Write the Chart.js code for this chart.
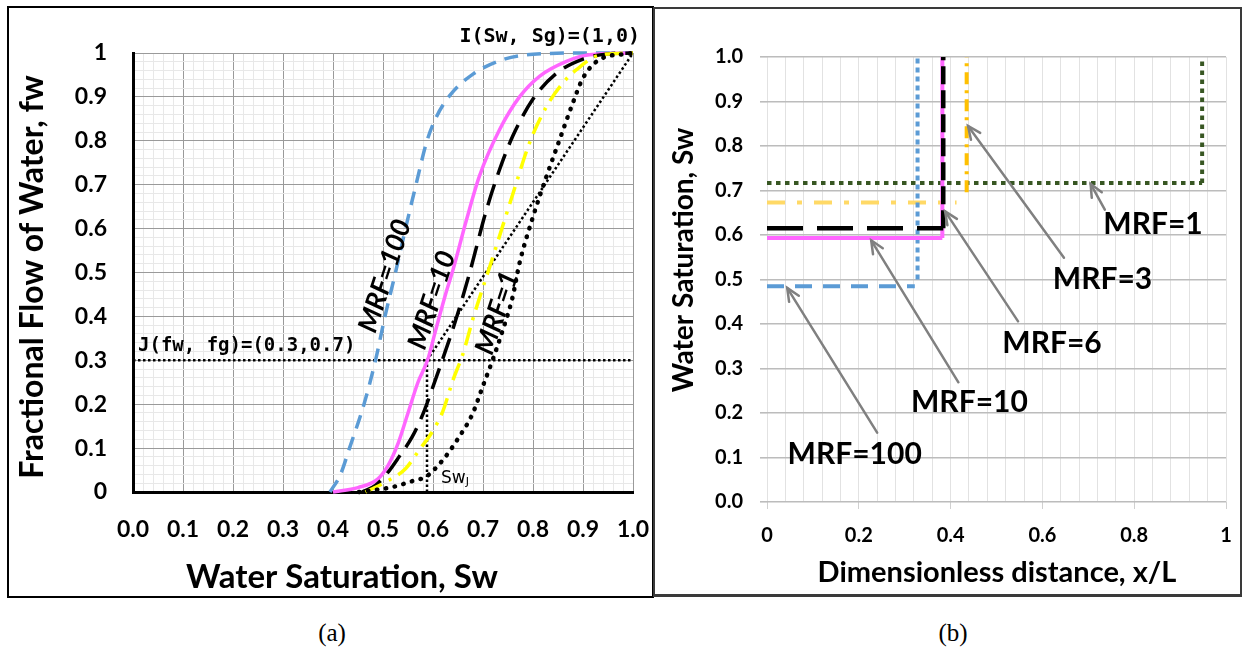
<!DOCTYPE html>
<html>
<head>
<meta charset="utf-8">
<script src="https://cdn.jsdelivr.net/npm/chart.js@4.4.1/dist/chart.umd.min.js"></script>
<style>
  html, body { margin: 0; padding: 0; background: #fff; }
  body { width: 1244px; height: 656px; position: relative; overflow: hidden; }
  .box { position: absolute; box-sizing: border-box; }
  #boxA { left: 7px; top: 6px; width: 647px; height: 592px; border: 2px solid #000; }
  #boxB { left: 653px; top: 7px; width: 589px; height: 590px; border: 2px solid #3a3a3a; border-bottom-width: 3px; }
  #wrapA { position: absolute; left: 9px; top: 8px; width: 643px; height: 588px; }
  #wrapB { position: absolute; left: 655px; top: 9px; width: 585px; height: 585px; }
  .cap { position: absolute; top: 619px; width: 60px; text-align: center;
         font: 25px "Liberation Serif", serif; color: #000; }
</style>
</head>
<body>
<div class="box" id="boxA"></div>
<div class="box" id="boxB"></div>
<div id="wrapA"><canvas id="chartA" width="643" height="588"></canvas></div>
<div id="wrapB"><canvas id="chartB" width="585" height="585"></canvas></div>
<div class="cap" style="left:302px">(a)</div>
<div class="cap" style="left:923px">(b)</div>

<script>
// — Panel (a): fractional flow fw vs water saturation Sw —
const swMrf100 = [0.394, 0.415, 0.433, 0.462, 0.485, 0.504, 0.525, 0.545, 0.566, 0.588, 0.607, 0.635, 0.68, 0.74, 0.8, 0.9, 1.0];
const fwMrf100 = [0, 0.04, 0.1, 0.2, 0.3, 0.4, 0.5, 0.6, 0.7, 0.8, 0.855, 0.905, 0.952, 0.985, 0.997, 1, 1];
const swMrf10  = [0.4, 0.45, 0.49, 0.51, 0.53, 0.55, 0.57, 0.589, 0.605, 0.625, 0.64, 0.667, 0.693, 0.733, 0.773, 0.813, 0.867, 0.913, 1.0];
const fwMrf10  = [0, 0.01, 0.03, 0.06, 0.11, 0.18, 0.25, 0.3, 0.367, 0.45, 0.506, 0.62, 0.72, 0.825, 0.9, 0.947, 0.981, 0.996, 1];
const swMrf6   = [0.458, 0.485, 0.508, 0.532, 0.558, 0.58, 0.6, 0.62, 0.645, 0.673, 0.707, 0.733, 0.76, 0.8, 0.845, 0.9, 0.95, 1.0];
const fwMrf6   = [0, 0.015, 0.042, 0.08, 0.125, 0.178, 0.24, 0.305, 0.39, 0.498, 0.643, 0.734, 0.812, 0.895, 0.952, 0.986, 0.998, 1];
const swMrf3   = [0.465, 0.512, 0.545, 0.572, 0.6, 0.62, 0.64, 0.66, 0.68, 0.72, 0.76, 0.793, 0.827, 0.86, 0.887, 0.933, 1.0];
const fwMrf3   = [0, 0.027, 0.053, 0.095, 0.14, 0.185, 0.255, 0.315, 0.395, 0.536, 0.68, 0.795, 0.878, 0.932, 0.962, 0.995, 1];
const swMrf1   = [0.452, 0.518, 0.565, 0.585, 0.619, 0.652, 0.679, 0.699, 0.719, 0.739, 0.759, 0.773, 0.8, 0.827, 0.853, 0.877, 0.9, 0.933, 0.987, 1.0];
const fwMrf1   = [0, 0.011, 0.027, 0.034, 0.072, 0.125, 0.178, 0.239, 0.3, 0.367, 0.443, 0.521, 0.627, 0.719, 0.802, 0.878, 0.943, 0.985, 0.998, 1];
// chord from J to I, and the J construction lines
const swChord  = [0.588, 1.0];
const fwChord  = [0.3, 1.0];
const swJLine  = [0, 1.0];
const fwJLine  = [0.3, 0.3];
const swJDrop  = [0.588, 0.588];
const fwJDrop  = [0, 0.3];

const swTickLabels = ['0.0', '0.1', '0.2', '0.3', '0.4', '0.5', '0.6', '0.7', '0.8', '0.9', '1.0'];
const fwTickLabels = ['0', '0.1', '0.2', '0.3', '0.4', '0.5', '0.6', '0.7', '0.8', '0.9', '1'];

// — Panel (b): saturation profiles Sw vs x/L —
const profileNames = ['MRF=100', 'MRF=10', 'MRF=6', 'MRF=3', 'MRF=1'];
const shockSw      = [0.485, 0.593, 0.615, 0.673, 0.717];
const plateauEndXd = [0.322, 0.382, 0.384, 0.413, 0.948];
const frontXd      = [0.328, 0.382, 0.384, 0.435, 0.948];
const frontFootSw  = [0.5, 0.593, 0.615, 0.696, 0.717];

const xdTickLabels = ['0', '0.2', '0.4', '0.6', '0.8', '1'];
const swTickLabelsB = ['0.0', '0.1', '0.2', '0.3', '0.4', '0.5', '0.6', '0.7', '0.8', '0.9', '1.0'];

const pts = (xs, ys) => xs.map((x, i) => ({ x, y: ys[i] }));

// fixed axis sizes, and no extra room for overhanging labels
const fixHeight = h => s => { s.height = h; s.paddingLeft = 0; s.paddingRight = 0; };
const fixWidth  = w => s => { s.width = w; s.paddingTop = 0; s.paddingBottom = 0; };

// — Panel (a) chart —
const majorA = '#9a9a9a';
const minorA = '#e8e8e8';

function curve(label, xs, ys, color, width, dash, extra) {
  return Object.assign({
    label, data: pts(xs, ys), borderColor: color, borderWidth: width,
    borderDash: dash, pointRadius: 0, fill: false, clip: 6,
    cubicInterpolationMode: 'monotone'
  }, extra || {});
}

const labelsA = {
  id: 'labelsA',
  afterDatasetsDraw(chart) {
    const { ctx, scales: { x, y } } = chart;
    ctx.save();
    ctx.fillStyle = '#000';
    // point labels
    ctx.font = 'bold 20px "DejaVu Sans Mono"';
    ctx.textBaseline = 'middle';
    ctx.textAlign = 'right';
    ctx.fillText('I(Sw, Sg)=(1,0)', x.getPixelForValue(1.014), y.getPixelForValue(1.036));
    ctx.textAlign = 'left';
    ctx.font = 'bold 19px "DejaVu Sans Mono"';
    ctx.fillText('J(fw, fg)=(0.3,0.7)', x.getPixelForValue(0.01), y.getPixelForValue(0.333));
    ctx.font = '17px "DejaVu Sans"';
    const sx = x.getPixelForValue(0.616), sy = y.getPixelForValue(0.03);
    ctx.fillText('Sw', sx, sy);
    const w = ctx.measureText('Sw').width;
    ctx.font = '11px "DejaVu Sans"';
    ctx.fillText('J', sx + w, sy + 3);
    // rotated curve labels
    ctx.font = 'italic bold 27px Lato';
    ctx.textAlign = 'center';
    [['MRF=100', 0.504, 0.492], ['MRF=10', 0.598, 0.437], ['MRF=1', 0.728, 0.408]].forEach(([t, vx, vy]) => {
      ctx.save();
      ctx.translate(x.getPixelForValue(vx), y.getPixelForValue(vy));
      ctx.rotate(-72 * Math.PI / 180);
      ctx.fillText(t, 0, 0);
      ctx.restore();
    });
    ctx.restore();
  },
  afterDraw(chart) {
    const { ctx } = chart;
    ctx.save();
    ctx.fillStyle = '#000';
    ctx.textAlign = 'center';
    ctx.textBaseline = 'middle';
    ctx.font = 'bold 33px Lato';
    ctx.fillText('Water Saturation, Sw', 333, 569);
    ctx.translate(24, 269);
    ctx.rotate(-Math.PI / 2);
    ctx.font = 'bold 32px Lato';
    ctx.fillText('Fractional Flow of Water, fw', 0, 0);
    ctx.restore();
  }
};

new Chart(document.getElementById('chartA'), {
  type: 'line',
  data: {
    datasets: [
      curve('MRF=1', swMrf1, fwMrf1, '#000', 4.5, [0.5, 8.5], { borderCapStyle: 'round' }),
      curve('MRF=3', swMrf3, fwMrf3, '#ffff00', 3.5, [18, 8, 3, 8]),
      curve('MRF=6', swMrf6, fwMrf6, '#000', 3.5, [22, 10]),
      curve('MRF=10', swMrf10, fwMrf10, '#ff66ff', 3.5, []),
      curve('MRF=100', swMrf100, fwMrf100, '#5b9bd5', 3.5, [14, 9]),
      curve('chord', swChord, fwChord, '#000', 2.5, [2.5, 2.5], { cubicInterpolationMode: 'default' }),
      curve('J', swJLine, fwJLine, '#000', 2.5, [2.5, 2.5], { cubicInterpolationMode: 'default' }),
      curve('SwJ', swJDrop, fwJDrop, '#000', 2.5, [2.5, 2.5], { cubicInterpolationMode: 'default' })
    ]
  },
  options: {
    responsive: false,
    animation: false,
    layout: { padding: { left: 0, top: 45, right: 19, bottom: 0 } },
    plugins: { legend: { display: false }, tooltip: { enabled: false } },
    scales: {
      x: {
        type: 'linear', min: 0, max: 1,
        afterFit: fixHeight(104),
        ticks: {
          stepSize: 0.02, autoSkip: false, maxTicksLimit: 100, maxRotation: 0, padding: 24,
          color: '#000', font: { family: 'Lato', weight: 'bold', size: 23 },
          callback: (v, i) => i % 5 === 0 ? swTickLabels[i / 5] : ''
        },
        grid: { color: c => c.index % 5 === 0 ? majorA : minorA, drawTicks: false },
        border: { color: '#000', width: 3 }
      },
      y: {
        type: 'linear', min: 0, max: 1,
        afterFit: fixWidth(124),
        ticks: {
          stepSize: 0.02, autoSkip: false, maxTicksLimit: 100, padding: 26,
          color: '#000', font: { family: 'Lato', weight: 'bold', size: 23 },
          callback: (v, i) => i % 5 === 0 ? fwTickLabels[i / 5] : ''
        },
        grid: { color: c => c.index % 5 === 0 ? majorA : minorA, drawTicks: false },
        border: { color: '#000', width: 3 }
      }
    }
  },
  plugins: [labelsA]
});

// — Panel (b) chart —
const profileStyles = [
  { color: '#5b9bd5', front: '#5b9bd5', width: 4, hDash: [17, 11], vDash: [5, 4] },
  { color: '#ff66ff', front: '#ff66ff', width: 4, hDash: [], vDash: [] },
  { color: '#000', front: '#000', width: 4.5, hDash: [36, 14], vDash: [18, 6] },
  { color: '#ffd966', front: '#ffc000', width: 4, hDash: [18, 12, 5, 12], vDash: [12, 6, 3, 6] },
  { color: '#385723', front: '#385723', width: 4, hDash: [4.5, 4.5], vDash: [4.5, 4.5] }
];

function profile(i) {
  const st = profileStyles[i];
  const xs = [0, plateauEndXd[i], frontXd[i], frontXd[i]];
  const ys = [shockSw[i], shockSw[i], frontFootSw[i], 1.0];
  return {
    label: profileNames[i], data: pts(xs, ys), borderWidth: st.width, borderColor: st.color,
    pointRadius: 0, fill: false, clip: 6,
    segment: {
      borderColor: c => c.p0DataIndex === 1 ? 'rgba(0,0,0,0)' : (c.p0DataIndex === 2 ? st.front : st.color),
      borderDash: c => c.p0DataIndex === 0 ? st.hDash : st.vDash
    }
  };
}

const pointers = [
  // [label index, label x, label y, tail x, tail y, tip x, tip y]
  [4, 0.841, 0.624, 0.736, 0.657, 0.705, 0.715],
  [3, 0.731, 0.501, 0.647, 0.549, 0.438, 0.845],
  [2, 0.621, 0.356, 0.547, 0.406, 0.388, 0.653],
  [1, 0.441, 0.225, 0.417, 0.269, 0.227, 0.588],
  [0, 0.191, 0.108, 0.24, 0.156, 0.044, 0.481]
];

function arrow(ctx, x0, y0, x1, y1) {
  ctx.beginPath(); ctx.moveTo(x0, y0); ctx.lineTo(x1, y1); ctx.stroke();
  const a = Math.atan2(y1 - y0, x1 - x0), L = 14, w = 0.42;
  ctx.beginPath();
  ctx.moveTo(x1 - L * Math.cos(a - w), y1 - L * Math.sin(a - w));
  ctx.lineTo(x1, y1);
  ctx.lineTo(x1 - L * Math.cos(a + w), y1 - L * Math.sin(a + w));
  ctx.stroke();
}

const labelsB = {
  id: 'labelsB',
  afterDatasetsDraw(chart) {
    const { ctx, scales: { x, y } } = chart;
    ctx.save();
    ctx.strokeStyle = '#808080';
    ctx.lineWidth = 2.5;
    ctx.lineCap = 'round';
    ctx.fillStyle = '#000';
    ctx.font = 'bold 30px Lato';
    ctx.textAlign = 'center';
    ctx.textBaseline = 'middle';
    pointers.forEach(([i, lx, ly, tx, ty, hx, hy]) => {
      arrow(ctx, x.getPixelForValue(tx), y.getPixelForValue(ty), x.getPixelForValue(hx), y.getPixelForValue(hy));
      ctx.fillText(profileNames[i], x.getPixelForValue(lx), y.getPixelForValue(ly));
    });
    ctx.restore();
  },
  afterDraw(chart) {
    const { ctx } = chart;
    ctx.save();
    ctx.fillStyle = '#000';
    ctx.textAlign = 'center';
    ctx.textBaseline = 'middle';
    ctx.font = 'bold 29px Lato';
    ctx.fillText('Dimensionless distance, x/L', 342, 564);
    ctx.translate(29, 251);
    ctx.rotate(-Math.PI / 2);
    ctx.font = 'bold 28px Lato';
    ctx.fillText('Water Saturation, Sw', 0, 0);
    ctx.restore();
  }
};

new Chart(document.getElementById('chartB'), {
  type: 'line',
  data: { datasets: [profile(2), profile(1), profile(0), profile(3), profile(4)] },
  options: {
    responsive: false,
    animation: false,
    layout: { padding: { left: 0, top: 48, right: 14, bottom: 0 } },
    plugins: { legend: { display: false }, tooltip: { enabled: false } },
    scales: {
      x: {
        type: 'linear', min: 0, max: 1,
        afterFit: fixHeight(92),
        ticks: {
          stepSize: 0.04, autoSkip: false, maxTicksLimit: 100, maxRotation: 0, padding: 15,
          color: '#000', font: { family: 'Lato', weight: 'bold', size: 20 },
          callback: (v, i) => i % 5 === 0 ? xdTickLabels[i / 5] : ''
        },
        grid: {
          color: '#e2e2e2', lineWidth: 1, tickLength: 7,
          tickColor: c => c.index % 5 === 0 ? '#d0d0d0' : 'rgba(0,0,0,0)'
        },
        border: { display: false }
      },
      y: {
        type: 'linear', min: 0, max: 1,
        afterFit: fixWidth(112),
        ticks: {
          stepSize: 0.1, autoSkip: false, padding: 17,
          color: '#000', font: { family: 'Lato', weight: 'bold', size: 20 },
          callback: (v, i) => swTickLabelsB[i]
        },
        grid: { color: '#bcbcbc', lineWidth: 1.6, tickLength: 7, tickColor: '#bcbcbc' },
        border: { display: false }
      }
    }
  },
  plugins: [labelsB]
});
</script>
</body>
</html>
